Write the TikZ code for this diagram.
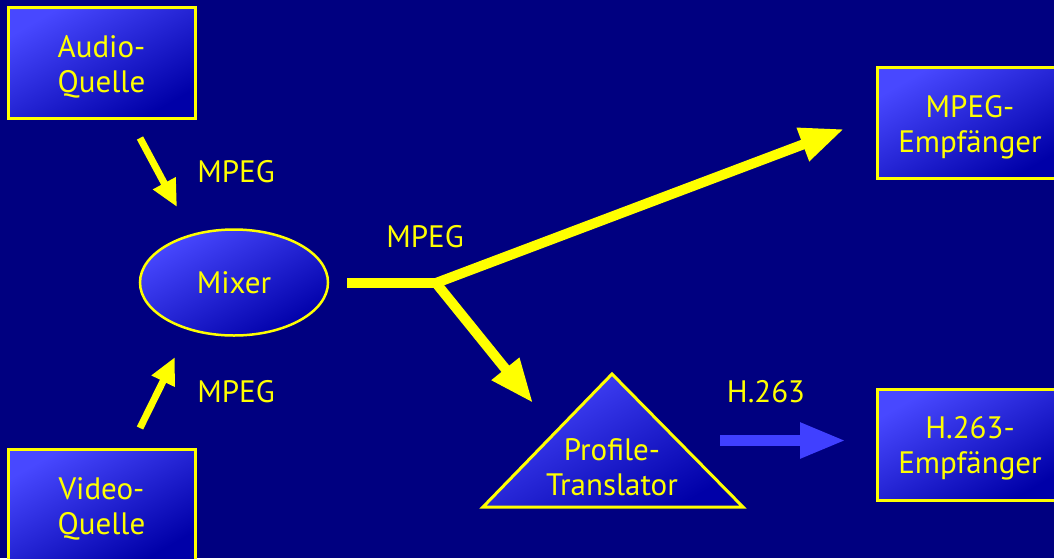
\documentclass[tikz,border=0pt]{standalone}
\usepackage{fontspec}
\setmainfont{PT Sans}
\usetikzlibrary{arrows.meta,shapes.geometric}
\definecolor{slidebg}{RGB}{0,0,128}
\definecolor{boxlight}{RGB}{72,72,255}
\definecolor{boxdark}{RGB}{0,0,168}
\definecolor{signal}{RGB}{255,255,0}
\definecolor{hblue}{RGB}{64,64,255}
\newcommand{\boxlines}[2]{\rule{0pt}{30.5pt}#1\\#2}

\begin{document}
\begin{tikzpicture}[x=1pt,y=-1pt,
    slidefont/.style={font=\fontsize{31}{35}\selectfont},
    boxfill/.style={top color=boxlight,bottom color=boxdark,shading angle=30},
    box/.style={boxfill,draw=signal,line width=3pt,text=signal,align=center,
        minimum width=187pt,minimum height=111pt,inner sep=0pt,slidefont},
    label/.style={text=signal,inner sep=0pt,slidefont},
    feed/.style={draw=signal,line width=7pt,-{Triangle[length=27pt,width=24pt]}},
    stream/.style={draw=signal,line width=10pt,-{Triangle[length=44pt,width=33pt]}},
    hstream/.style={draw=hblue,line width=11pt,-{Triangle[length=46pt,width=33pt]}}]
    % background
    \fill[slidebg] (0,0) rectangle (1054,558);
    \useasboundingbox (0,0) rectangle (1054,558);
    % sources, mixer, receivers
    \node[box] (audio) at (101.5,62.5) {\boxlines{Audio-}{Quelle}};
    \node[box] (video) at (101.5,505) {\boxlines{Video-}{Quelle}};
    \node[ellipse,boxfill,draw=signal,line width=2.5pt,text=signal,inner sep=0pt,
        minimum width=188pt,minimum height=106pt,slidefont] (mixer) at (234,282.5) {Mixer};
    \node[box,minimum width=186pt] (mpegrx) at (970,123) {\boxlines{MPEG-}{Empfänger}};
    \node[box,minimum width=186pt] (hrx) at (970,444.5) {\boxlines{H.263-}{Empfänger}};
    % profile translator
    \shadedraw[boxfill,draw=signal,line width=3pt,line join=miter]
        (612,374) -- (743,507) -- (483,507) -- cycle;
    \node[text=signal,align=center,inner sep=0pt,slidefont] (translator) at (612,467.5) {Profile-\\Translator};
    % arrow ends
    \coordinate (audioout) at (140,138);
    \coordinate (mixerintop) at (177,207);
    \coordinate (videoout) at (140,428);
    \coordinate (mixerinbot) at (175,357);
    \coordinate (mixerout) at (347,283);
    \coordinate (split) at (436,283);
    \coordinate (mpegin) at (844,129);
    \coordinate (translatorin) at (533,403);
    \coordinate (translatorout) at (720,440.5);
    \coordinate (hin) at (846,440.5);
    % connectors
    \draw[feed] (audioout) -- (mixerintop);
    \draw[feed] (videoout) -- (mixerinbot);
    \draw[draw=signal,line width=10pt] (mixerout) -- (split);
    \draw[stream] (split) -- (mpegin);
    \draw[stream] (split) -- (translatorin);
    \draw[hstream] (translatorout) -- (hin);
    % labels
    \node[label] (mpegtop) at (236,172) {MPEG};
    \node[label] (mpegbot) at (236,392) {MPEG};
    \node[label] (mpegmid) at (425,237) {MPEG};
    \node[label] (hlabel) at (766,392) {H.263};
\end{tikzpicture}
\end{document}
